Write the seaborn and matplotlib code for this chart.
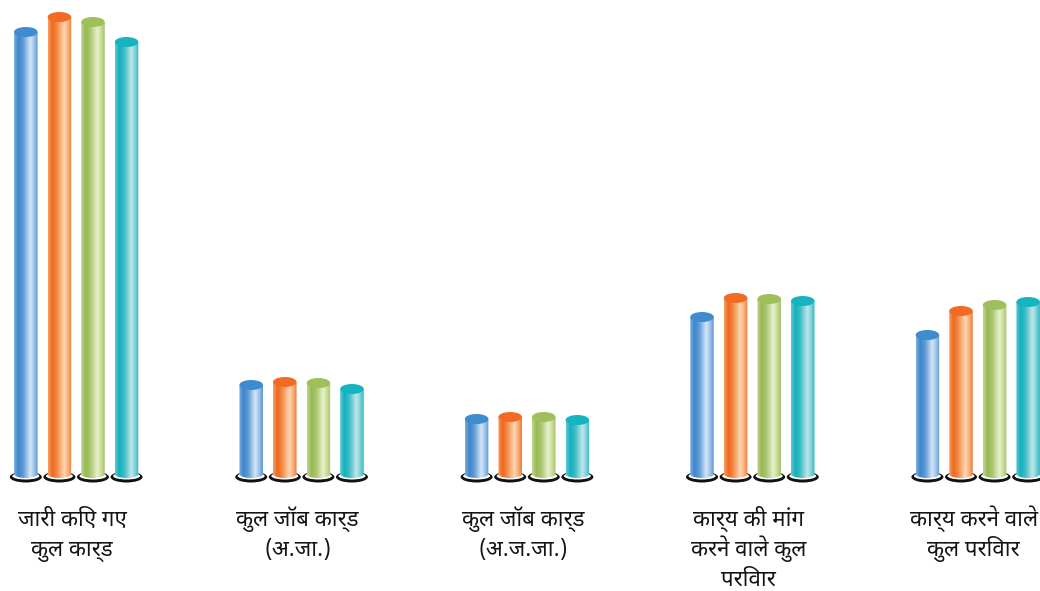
import numpy as np
import pandas as pd
import matplotlib
matplotlib.use("Agg")
import matplotlib.pyplot as plt
from matplotlib.patches import Ellipse, PathPatch
from matplotlib.path import Path
from matplotlib.colors import to_rgb
import seaborn as sns

# ---- data -------------------------------------------------------------
categories = [
    "जारी किए गए\nकुल कार्ड",
    "कुल जॉब कार्ड\n(अ.जा.)",
    "कुल जॉब कार्ड\n(अ.ज.जा.)",
    "कार्य की मांग\nकरने वाले कुल\nपरिवार",
    "कार्य करने वाले\nकुल परिवार",
]
series = ["श्रृंखला 1", "श्रृंखला 2", "श्रृंखला 3", "श्रृंखला 4"]
values_s1 = [440, 87, 53, 155, 137]
values_s2 = [455, 90, 55, 174, 161]
values_s3 = [450, 89, 55, 173, 167]
values_s4 = [430, 83, 52, 171, 170]

# cap colour and horizontal shading stops (left -> right) for each cylinder
cap_colors = ["#3f8bcf", "#f26a24", "#9fbf5a", "#14b4c0"]
shade_stops = [
    ["#7aaee0", "#3f86ca", "#5e9bd6", "#d3e5f6", "#a9c9ec", "#5b97d3"],
    ["#f8a060", "#ee6820", "#f48a45", "#fdd7b4", "#fbb884", "#f07a34"],
    ["#c2d68b", "#98b956", "#a8c66c", "#e8f0cc", "#cfe0a0", "#a3c262"],
    ["#5ec8d0", "#13b0bc", "#3cbcc6", "#bde6e9", "#8ed6dc", "#30b8c3"],
]
stop_pos = [0.0, 0.18, 0.38, 0.68, 0.82, 1.0]

df = pd.DataFrame({
    "category": np.repeat(categories, len(series)),
    "series": series * len(categories),
    "value": np.ravel(np.column_stack([values_s1, values_s2, values_s3, values_s4])),
})

# ---- figure -----------------------------------------------------------
sns.set_theme(style="white")
plt.rcParams["font.family"] = ["Noto Sans Devanagari", "DejaVu Sans"]

W, H = 1040, 591
fig = plt.figure(figsize=(W / 100, H / 100), dpi=100)
ax_h = 490
ax = fig.add_axes([0, (H - ax_h) / H, 1, ax_h / H])

sns.barplot(data=df, x="category", y="value", hue="series", hue_order=series,
            order=categories, palette=cap_colors, width=0.596, gap=0.30,
            legend=False, ax=ax)

XLIM = (-0.338, 4.276)
YLIM = (-18, 472)
units_per_px_x = (XLIM[1] - XLIM[0]) / W


def gradient_image(stops):
    xs = np.linspace(0, 1, 64)
    rgb = np.array([to_rgb(c) for c in stops])
    img = np.stack([np.interp(xs, stop_pos, rgb[:, k]) for k in range(3)], axis=-1)
    return img[np.newaxis, :, :]


cap_h = 10           # height of the top cap (px)
bottom_half = 4      # half-height of the rounded bottom (px)
bottom_c = -2        # centre of the rounded bottom
ring_outer = (32 * units_per_px_x, 11, -5)
ring_inner = (27 * units_per_px_x, 7, -4)

for s_idx, container in enumerate(ax.containers):
    img = gradient_image(shade_stops[s_idx])
    for bar in container:
        x0 = bar.get_x()
        w = bar.get_width()
        h = bar.get_height()
        xc = x0 + w / 2
        bar.set_facecolor("none")
        bar.set_edgecolor("none")

        # black base ring under the cylinder
        ax.add_patch(Ellipse((xc, ring_outer[2]), ring_outer[0], ring_outer[1],
                             facecolor="#111111", edgecolor="none", zorder=2))
        ax.add_patch(Ellipse((xc, ring_inner[2]), ring_inner[0], ring_inner[1],
                             facecolor="white", edgecolor="none", zorder=2.1))

        # body outline: straight sides with rounded bottom
        t = np.linspace(np.pi, 2 * np.pi, 40)
        arc = np.column_stack([xc + (w / 2) * np.cos(t),
                               bottom_c + bottom_half * np.sin(t)])
        verts = np.vstack([[x0, h], arc, [x0 + w, h], [x0, h]])
        codes = [Path.MOVETO] + [Path.LINETO] * (len(verts) - 2) + [Path.CLOSEPOLY]
        body = PathPatch(Path(verts, codes), facecolor="none", edgecolor="none")
        ax.add_patch(body)
        im = ax.imshow(img, extent=[x0, x0 + w, bottom_c - bottom_half, h],
                       aspect="auto", interpolation="bilinear", zorder=3)
        im.set_clip_path(body)

        # flat top cap
        ax.add_patch(Ellipse((xc, h), w, cap_h, facecolor=cap_colors[s_idx],
                             edgecolor="none", zorder=4))

ax.set_xlim(*XLIM)
ax.set_ylim(*YLIM)

# category labels: one text per line on a fixed baseline grid below the bars
first_baseline = -54
line_step = 30
label_shift = -4 * units_per_px_x
for i, cat in enumerate(categories):
    for j, line in enumerate(cat.split("\n")):
        ax.text(i + label_shift, first_baseline - j * line_step, line,
                ha="center", va="baseline", fontsize=16, color="#141414",
                clip_on=False)

ax.set_xlabel("")
ax.set_ylabel("")
ax.set_xticks([])
ax.set_yticks([])
for sp in ax.spines.values():
    sp.set_visible(False)
ax.set_facecolor("white")

fig.savefig("out.png", dpi=100, facecolor="white")
